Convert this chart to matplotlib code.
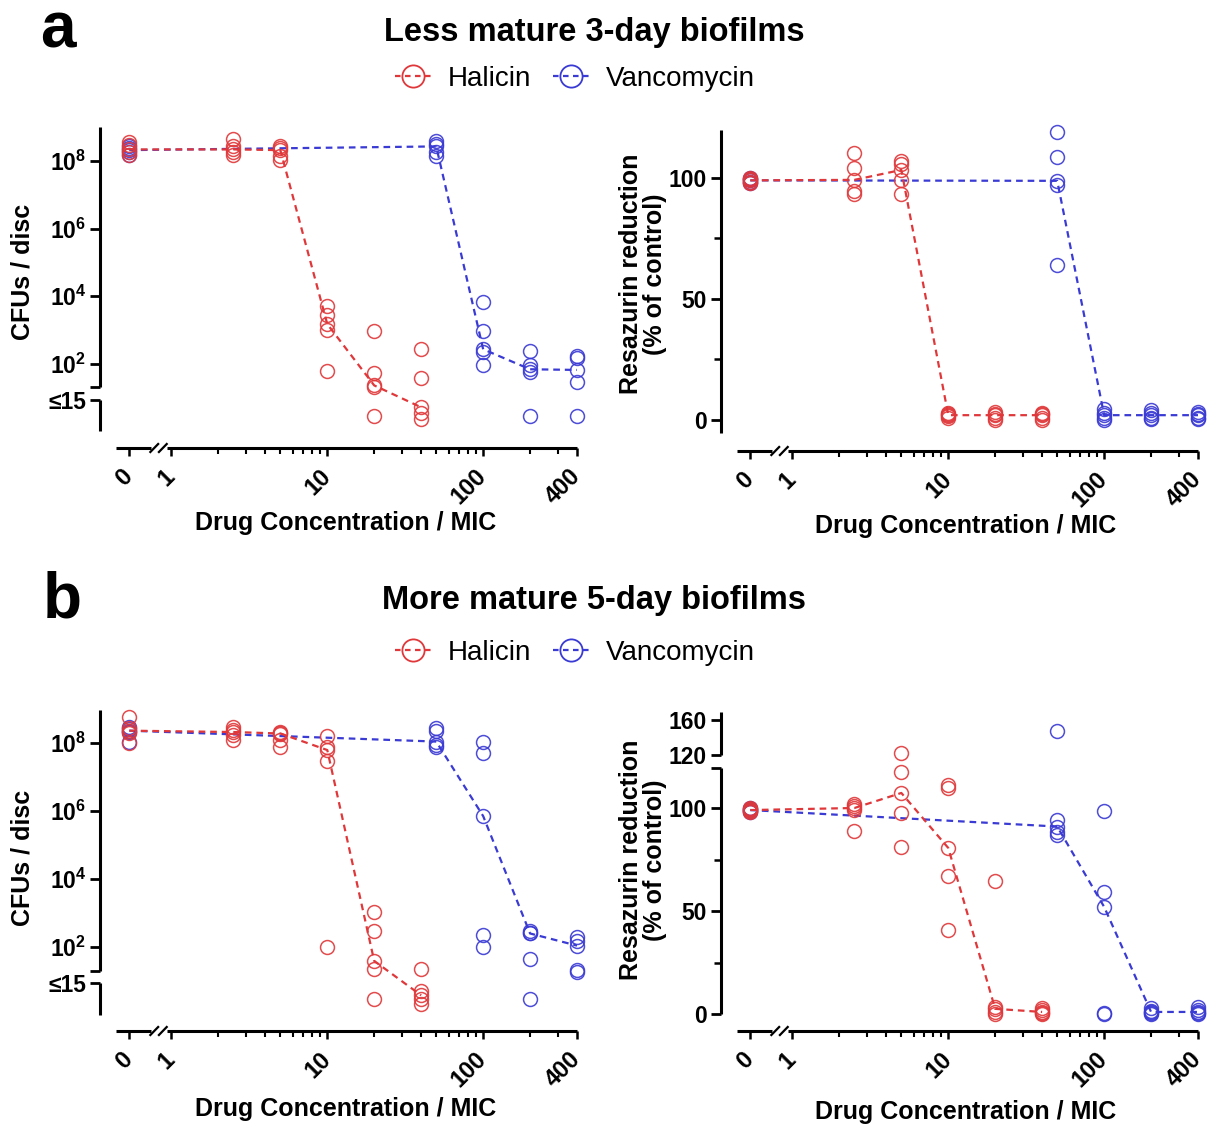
import numpy as np
import matplotlib
matplotlib.use('Agg')
import matplotlib.pyplot as plt
from matplotlib.lines import Line2D

plt.rcParams['font.family'] = ['Liberation Sans', 'DejaVu Sans']
plt.rcParams['mathtext.fontset'] = 'custom'
plt.rcParams['mathtext.rm'] = 'Liberation Sans:bold'
plt.rcParams['mathtext.bf'] = 'Liberation Sans:bold'
plt.rcParams['mathtext.default'] = 'bf'

W, H = 1209, 1124
RED = '#e0383a'
BLUE = '#3a3ad4'

# concentraciones (x MIC)
conc_hal = [0, 2.5, 5, 10, 20, 40]
conc_van = [0, 50, 100, 200, 400]

# a) biofilms de 3 dias - CFUs / disc (replicas por concentracion)
hal_cfu_3d = [[3.7e8, 3.0e8, 2.2e8, 1.9e8, 1.5e8],
              [4.4e8, 2.7e8, 2.2e8, 1.9e8, 1.5e8],
              [2.8e8, 2.4e8, 2.1e8, 1.4e8, 1.1e8],
              [5100, 2700, 1500, 1000, 63],
              [950, 55, 23, 21, 5],
              [275, 38, 9, 6, 4]]
van_cfu_3d = [[2.7e8, 2.4e8, 2.1e8, 1.8e8, 1.5e8],
              [4.0e8, 3.2e8, 2.7e8, 1.8e8, 1.4e8],
              [6600, 950, 270, 230, 90],
              [245, 90, 69, 56, 5],
              [175, 145, 66, 30, 5]]

# a) resazurin (% of control)
hal_res_3d = [[100, 99.5, 99, 98.5, 98],
              [110.5, 104, 99.2, 94.4, 93.4],
              [106.8, 105.7, 103.3, 99.2, 93.4],
              [3, 2.5, 2, 1.5, 1],
              [3.5, 2.5, 2, 1, 0],
              [3, 2.5, 2, 1, 0]]
van_res_3d = [[100, 99.5, 99, 98.5, 98],
              [119, 108.5, 98.8, 97, 64],
              [4.5, 3, 2, 1, 0],
              [4, 3, 2, 1, 0.5],
              [3.5, 2.5, 2, 1, 0.5]]

# b) biofilms de 5 dias - CFUs / disc
hal_cfu_5d = [[5.9e8, 2.7e8, 2.3e8, 2.0e8, 1.0e8],
              [3.0e8, 2.4e8, 2.1e8, 1.7e8, 1.2e8],
              [2.1e8, 2.0e8, 1.9e8, 1.2e8, 7.8e7],
              [1.6e8, 7.8e7, 6.2e7, 3.0e7, 102],
              [1070, 295, 39, 22, 5],
              [22, 8.7, 6.6, 5, 3.6]]
van_cfu_5d = [[3.0e8, 2.6e8, 2.3e8, 2.1e8, 1.05e8],
              [2.7e8, 2.3e8, 1.1e8, 8.7e7, 7.8e7],
              [1.1e8, 5.0e7, 7.1e5, 225, 98],
              [290, 260, 250, 43, 5],
              [200, 150, 110, 21, 19]]

# b) resazurin (% of control)
hal_res_5d = [[100, 99.5, 99, 98.5, 98],
              [102, 101, 100, 99, 89],
              [122, 117.5, 107.3, 97.6, 81],
              [111, 109.7, 80.6, 67, 41],
              [64.6, 3.5, 2.5, 1, 0],
              [3, 2, 1, 0.5, 0]]
van_res_5d = [[100, 99.5, 99, 98.5, 98],
              [148, 94, 91, 88.5, 87],
              [98.5, 59, 52, 0.5, 0],
              [3, 1.5, 1, 0.5, 0],
              [3.5, 2, 1, 0.5, 0]]

x_ticks = [0, 1, 10, 100, 400]
x_minor = [2, 3, 4, 5, 6, 7, 8, 9, 20, 30, 40, 50, 60, 70, 80, 90, 200, 300]

# --- escalas con cortes ---
X_THR, X_ZERO = 0.9, -0.27


def fwd_x(x):
    x = np.asarray(x, dtype=float)
    lin = X_ZERO + x * (np.log10(X_THR) - X_ZERO) / X_THR
    return np.where(x >= X_THR, np.log10(np.maximum(x, X_THR)), lin)


def inv_x(v):
    v = np.asarray(v, dtype=float)
    lin = (v - X_ZERO) * X_THR / (np.log10(X_THR) - X_ZERO)
    return np.where(v >= np.log10(X_THR), 10 ** np.clip(v, -5, 5), lin)


T_CFU, G_CFU = 17.5, 0.24


def fwd_cfu(y):
    y = np.asarray(y, dtype=float)
    ly = np.log10(np.maximum(y, 1e-6))
    return np.where(y >= T_CFU, ly, ly - G_CFU)


def inv_cfu(v):
    v = np.asarray(v, dtype=float)
    lt = np.log10(T_CFU)
    return np.where(v >= lt, 10 ** np.clip(v, -10, 12),
                    np.where(v < lt - G_CFU, 10 ** np.clip(v + G_CFU, -10, 12), T_CFU))


T_RES, RES_JUMP, RES_K = 119.5, 125.7, 0.425


def fwd_res(y):
    y = np.asarray(y, dtype=float)
    return np.where(y >= T_RES, RES_JUMP + (y - 120) * RES_K, y)


def inv_res(v):
    v = np.asarray(v, dtype=float)
    up = RES_JUMP + (T_RES - 120) * RES_K
    return np.where(v >= up, 120 + (v - RES_JUMP) / RES_K, np.minimum(v, T_RES))


fig = plt.figure(figsize=(W / 100, H / 100), dpi=100)


def ftext(x, y, s, **kw):
    fig.text(x / W, 1 - y / H, s, ha='center', va='center', **kw)


def panel(box, kind, hal, van, ylim_f):
    '''
        Dibuja un panel: box en pixeles (eje y, arriba, derecha, eje x)
    '''
    x0, y0, x1, y1 = box
    ax = fig.add_axes([x0 / W, 1 - y1 / H, (x1 - x0) / W, (y1 - y0) / H])
    ax.patch.set_alpha(0)
    ax.set_xscale('function', functions=(fwd_x, inv_x))
    ax.set_xlim(float(inv_x(-0.458)), 400)
    if kind == 'cfu':
        ax.set_yscale('function', functions=(fwd_cfu, inv_cfu))
        ax.set_ylim(float(inv_cfu(ylim_f[0])), float(inv_cfu(ylim_f[1])))
        ax.set_yticks([20, 15, 1e2, 1e4, 1e6, 1e8])
        ax.set_yticklabels(['', '≤15', '$10^{2}$', '$10^{4}$', '$10^{6}$', '$10^{8}$'])
        segs = [(20, None), (float(inv_cfu(0.0)), 15)]
    elif kind == 'res':
        ax.set_ylim(*ylim_f)
        ax.set_yticks([0, 50, 100])
        ax.set_yticks([25, 75], minor=True)
        segs = [(-5.4, None)]
    else:
        ax.set_yscale('function', functions=(fwd_res, inv_res))
        ax.set_ylim(float(inv_res(ylim_f[0])), float(inv_res(ylim_f[1])))
        ax.set_yticks([0, 50, 100, 119.3, 120, 160])
        ax.set_yticklabels(['0', '50', '100', '', '120', '160'])
        ax.set_yticks([25, 75], minor=True)
        segs = [(0, 119.3), (120, None)]

    for s in ax.spines.values():
        s.set_visible(False)
    ytop = ax.get_ylim()[1]
    for lo, hi in segs:
        ax.plot([0, 0], [lo, ytop if hi is None else hi], color='k', lw=2.2,
                transform=ax.get_yaxis_transform(), clip_on=False,
                solid_capstyle='butt')

    # eje x con corte
    xt = ax.get_xaxis_transform()
    for a, b in ((-0.355, -0.13), (-0.03, np.log10(400))):
        ax.plot([float(inv_x(a)), float(inv_x(b))], [0, 0], color='k', lw=2.2,
                transform=xt, clip_on=False, solid_capstyle='butt')
    d = 4.0 / (y1 - y0)
    for a in (-0.135, -0.08):
        ax.plot([float(inv_x(a)), float(inv_x(a + 0.05))], [-d, d], color='k',
                lw=1.6, transform=xt, clip_on=False)

    ax.set_xticks(x_ticks)
    ax.set_xticks(x_minor, minor=True)
    ax.set_xticklabels([str(t) for t in x_ticks], rotation=45, ha='right',
                       va='center', rotation_mode='anchor')
    ax.tick_params(axis='x', which='major', length=6, width=1.8, pad=12,
                   labelsize=17)
    ax.tick_params(axis='x', which='minor', length=4.5, width=1.5)
    ax.tick_params(axis='y', which='major', length=7, width=2, pad=3,
                   labelsize=16.5)
    ax.tick_params(axis='y', which='minor', length=5, width=1.8)
    for lab in ax.get_xticklabels() + ax.get_yticklabels():
        lab.set_fontweight('bold')

    for conc, reps, col in ((conc_van, van, BLUE), (conc_hal, hal, RED)):
        med = [np.median(r) for r in reps]
        ax.plot(conc, med, color=col, lw=1.6, ls=(0, (3, 2.2)), clip_on=False,
                zorder=3)
        for c, r in zip(conc, reps):
            ax.plot([c] * len(r), r, 'o', ms=10, mfc='none', mec=col, mew=1.1,
                    alpha=0.9, clip_on=False, zorder=4)
    return ax


panel((100, 127, 577, 448), 'cfu', hal_cfu_3d, van_cfu_3d, (-0.49, 9.006))
panel((721, 130, 1198, 451), 'res', hal_res_3d, van_res_3d, (-12.8, 119.8))
panel((100, 710, 577, 1031), 'cfu', hal_cfu_5d, van_cfu_5d, (-0.47, 8.97))
panel((721, 712, 1198, 1031), 'res2', hal_res_5d, van_res_5d, (-8.25, 146.6))

lab_kw = dict(fontsize=18, fontweight='bold')
for yy in (0, 586):
    ftext(346, 523 + yy, 'Drug Concentration / MIC', **lab_kw)
    ftext(966, 526 + yy, 'Drug Concentration / MIC', **lab_kw)
    ftext(22, 272 + yy, 'CFUs / disc', rotation=90, **lab_kw)
    ftext(643, 274 + yy, 'Resazurin reduction\n(% of control)', rotation=90,
          linespacing=1.05, **lab_kw)

ftext(58, 30, 'a', fontsize=46, fontweight='bold')
ftext(62, 601, 'b', fontsize=46, fontweight='bold')
ftext(594, 33, 'Less mature 3-day biofilms', fontsize=23.5, fontweight='bold')
ftext(594, 601, 'More mature 5-day biofilms', fontsize=23.5, fontweight='bold')

handles = [Line2D([], [], color=c, ls=(0, (2.5, 2)), lw=1.6, marker='o', ms=16,
                  mfc='none', mec=c, mew=1.3) for c in (RED, BLUE)]
for yy in (79, 653):
    fig.legend(handles, ['Halicin', 'Vancomycin'], loc='center',
               bbox_to_anchor=(575 / W, 1 - yy / H), ncol=2, frameon=False,
               fontsize=20, handlelength=1.3, handletextpad=0.6,
               columnspacing=0.8)

fig.savefig('out.png', dpi=100)
